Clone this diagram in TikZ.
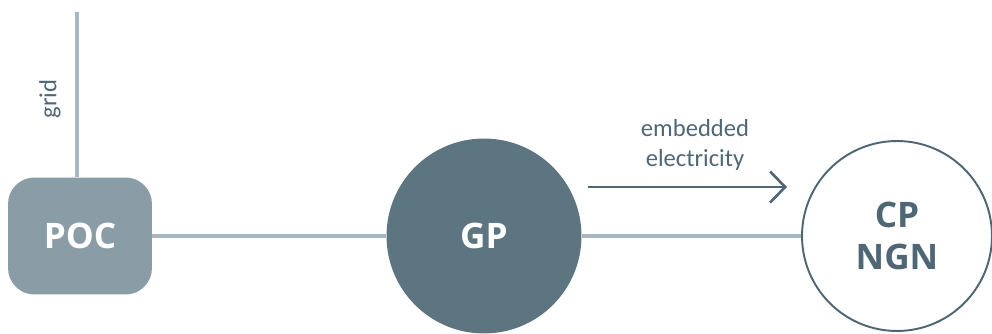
\documentclass[tikz,border=0pt]{standalone}
\usepackage{fontspec}
\setmainfont{Carlito}
\newfontfamily\labelfont{Open Sans}
\usepackage{tikz}
\usetikzlibrary{arrows.meta}
\definecolor{pocgrey}{HTML}{8A9DA7}
\definecolor{linegrey}{HTML}{A6B8C1}
\definecolor{gpslate}{HTML}{5D7481}
\definecolor{textslate}{HTML}{4F6774}
\tikzstyle{pocbox} = [rectangle, rounded corners=15, minimum width=2.88cm, minimum height=2.34cm, text centered, fill=pocgrey, text=white, font=\labelfont\bfseries\fontsize{20}{22}\selectfont]
\tikzstyle{gpnode} = [circle, minimum size=3.9cm, inner sep=0pt, fill=gpslate, text=white, font=\labelfont\bfseries\fontsize{20}{22}\selectfont]
\tikzstyle{cpnode} = [circle, minimum size=3.8cm, inner sep=0pt, draw=textslate, line width=1.1pt, fill=white, align=center, text=textslate, font=\labelfont\bfseries\fontsize{20}{24}\selectfont]
\tikzstyle{link} = [draw=linegrey, line width=2pt]
\tikzstyle{arrow} = [textslate, line width=1.5pt, -{Straight Barb[length=0.3cm, width=0.62cm, line width=1.5pt]}]
\tikzstyle{note} = [text=textslate, font=\fontsize{14}{17}\selectfont, align=center]

\begin{document}
\begin{tikzpicture}[x=0.02cm, y=-0.02cm]
\useasboundingbox (0,0) rectangle (992,334);
\node (poc) [pocbox] at (80,236) {POC};
\node (gp) [gpnode] at (484,236) {GP};
\node (cp) [cpnode] at (897,236) {CP\\NGN};
\coordinate (gridtop) at (77,12);
\coordinate (flowstart) at (588,187);
\coordinate (flowend) at (787,187);

\draw [link] (gridtop) -- (gridtop |- poc.north);
\node (gridlabel) [note, rotate=90] at (50,99) {grid};
\draw [link] (poc.east) -- (gp.west);
\draw [link] (gp.east) -- (cp.west);
\draw [arrow] (flowstart) -- (flowend);
\node (flowlabel) [note, above=1pt] at (695,178) {embedded\\electricity};
\end{tikzpicture}
\end{document}
